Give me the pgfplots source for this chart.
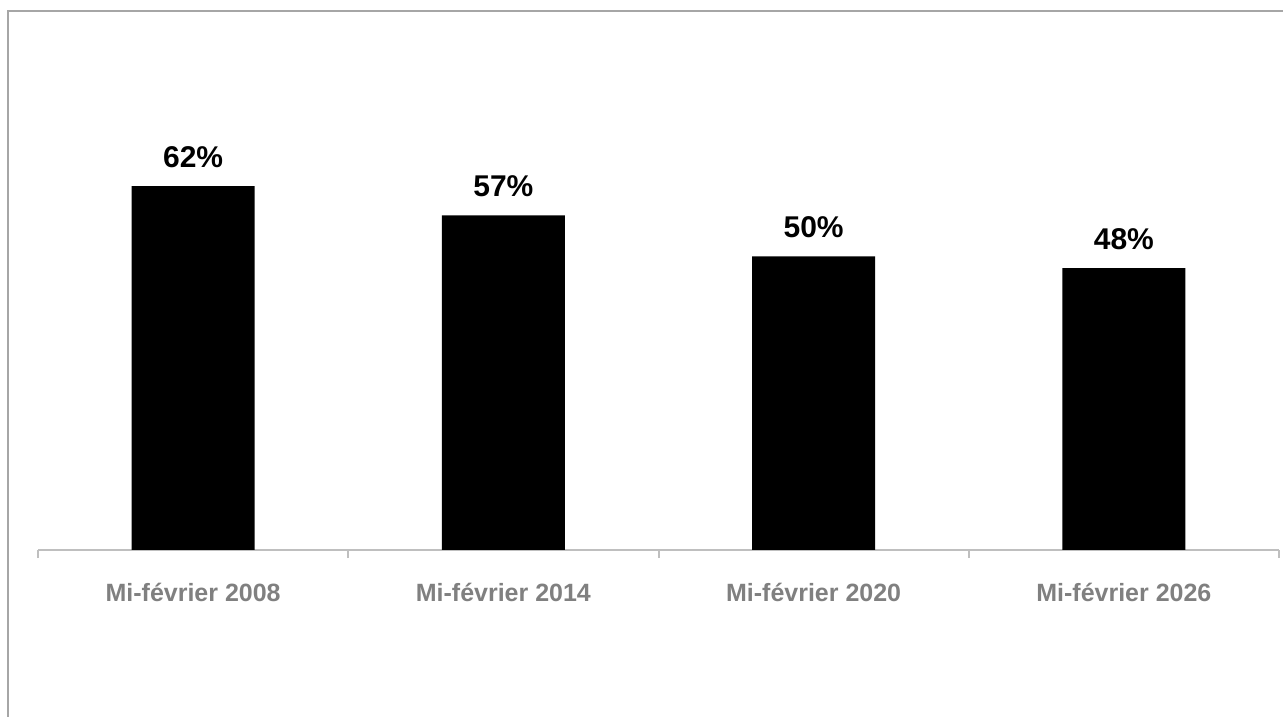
\documentclass[border=0pt]{standalone}
\usepackage{pgfplots}
\pgfplotsset{compat=1.18}
\usepackage{fontspec}
\setmainfont{Liberation Sans}
\definecolor{axisgray}{HTML}{BFBFBF}
\definecolor{labelgray}{HTML}{808080}
\definecolor{framegray}{HTML}{A6A6A6}
\begin{document}
\begin{tikzpicture}
  % page: 1283 x 717 px at 0.5bp per px
  \useasboundingbox (0,0) rectangle (641.5bp,358.5bp);
  \draw[framegray, line width=1bp] (641.5bp,353bp) -- (4bp,353bp) -- (4bp,0);
  \begin{axis}[
      at={(19bp,83.5bp)}, anchor=south west,
      scale only axis,
      width=620.5bp, height=190.8bp,
      xmin=-0.5, xmax=3.5,
      ymin=0, ymax=65,
      axis y line=none,
      axis x line*=bottom,
      x axis line style={axisgray, line width=1bp, -},
      xtick={0,1,2,3},
      xticklabels={Mi-février 2008, Mi-février 2014, Mi-février 2020, Mi-février 2026},
      major x tick style={draw=none},
      minor xtick={-0.5,0.5,1.5,2.5,3.5},
      minor x tick style={axisgray, line width=1bp},
      minor tick length=4bp,
      tick align=outside,
      /pgf/number format/assume math mode=true,
      xticklabel style={font=\fontsize{12.5bp}{15bp}\selectfont\bfseries, text=labelgray, anchor=base, yshift=-21.5bp},
      ybar, bar width=61.5bp,
      nodes near coords={\pgfmathprintnumber[assume math mode=true]{\pgfplotspointmeta}\%},
      every node near coord/.append style={font=\fontsize{15bp}{18bp}\selectfont\bfseries, text=black, anchor=base, yshift=9.5bp},
    ]
    \addplot[fill=black, draw=none] coordinates {(0,62) (1,57) (2,50) (3,48)};
  \end{axis}
\end{tikzpicture}
\end{document}
